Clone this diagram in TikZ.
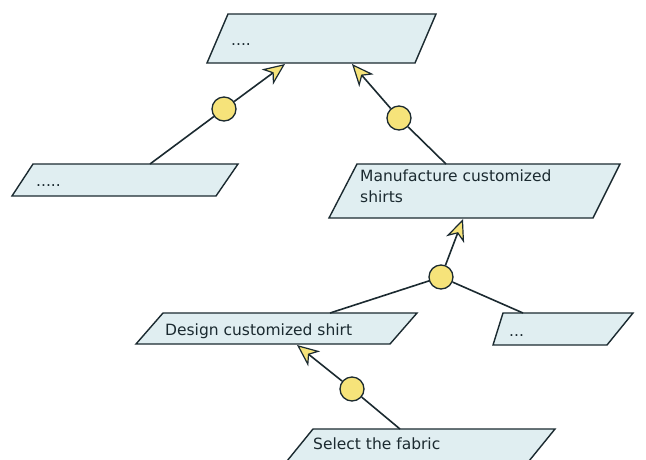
\documentclass[tikz,border=0pt]{standalone}
\usepackage{fontspec}
\setmainfont{DejaVu Sans}
\usetikzlibrary{arrows.meta}
\definecolor{boxfill}{HTML}{E0EEF1}
\definecolor{ink}{HTML}{1B2A30}
\definecolor{yel}{HTML}{F6E37A}
\tikzset{
  para/.style={draw=ink, fill=boxfill, line width=1.4pt, line join=miter},
  conn/.style={draw=ink, line width=1.6pt},
  arr/.style={conn, arrows={-Stealth[length=22pt, width=19pt, inset=6.5pt, fill=yel, line width=1.2pt]}},
  junc/.style={circle, draw=ink, fill=yel, line width=1.3pt, minimum size=24pt, inner sep=0pt},
  lbl/.style={anchor=base west, inner sep=0pt, font=\fontsize{15.5}{21}\selectfont, text=ink}
}
\begin{document}
\begin{tikzpicture}[x=1pt, y=-1pt]
\useasboundingbox[fill=white] (0,0) rectangle (646,459);
% parallelograms
\draw[para] (228,14) -- (436,14) -- (415,63) -- (207,63) -- cycle;
\draw[para] (33,164) -- (238,164) -- (216,196) -- (12,196) -- cycle;
\draw[para] (357,164) -- (620,164) -- (593,218) -- (329,218) -- cycle;
\draw[para] (163,313) -- (417,313) -- (390,344) -- (136,344) -- cycle;
\draw[para] (503,313) -- (633,313) -- (607,345) -- (493,345) -- cycle;
\draw[para] (313,429) -- (555,429) -- (529,461) -- (287,461) -- cycle;
% labels
\node[lbl] (goal) at (231,45) {....};
\node[lbl] (other) at (36,186) {.....};
\node[lbl, align=left, anchor=north west] (manu) at (360,170) {Manufacture customized\\shirts};
\node[lbl] (design) at (165,335) {Design customized shirt};
\node[lbl] (dots) at (509,336) {...};
\node[lbl] (select) at (313,449) {Select the fabric};
% attachment points
\coordinate (goalL) at (285,64);
\coordinate (goalR) at (352,64);
\coordinate (otherT) at (150,164);
\coordinate (manuT) at (446,164);
\coordinate (manuB) at (463,219);
\coordinate (designT) at (330,313);
\coordinate (designB) at (297,345);
\coordinate (dotsT) at (523,313);
\coordinate (selectT) at (400,429);
% junctions
\node[junc] (j1) at (224,109) {};
\node[junc] (j2) at (399,118) {};
\node[junc] (j3) at (441,277) {};
\node[junc] (j4) at (352,389) {};
% connectors
\draw[conn] (otherT) -- (j1);
\draw[arr] (j1) -- (goalL);
\draw[conn] (manuT) -- (j2);
\draw[arr] (j2) -- (goalR);
\draw[conn] (designT) -- (j3);
\draw[conn] (dotsT) -- (j3);
\draw[arr] (j3) -- (manuB);
\draw[conn] (selectT) -- (j4);
\draw[arr] (j4) -- (designB);
\end{tikzpicture}
\end{document}
